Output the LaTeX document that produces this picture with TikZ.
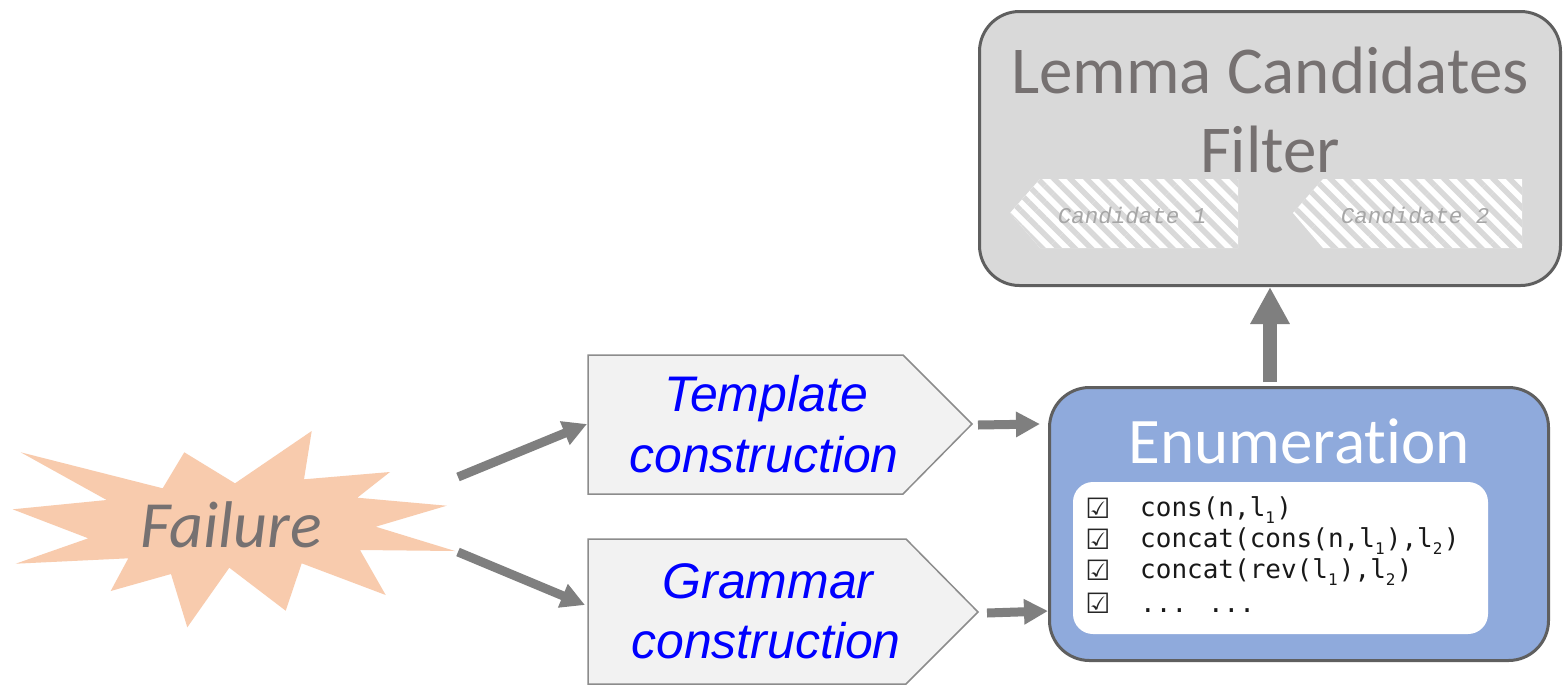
\documentclass[tikz,border=0pt]{standalone}
\usepackage{fontspec}
\setmainfont{Carlito}
\newfontfamily\calibri[RawFeature={-liga;-clig;-calt;-dlig}]{Carlito}
\newfontfamily\arialf{Liberation Sans}
\newfontfamily\monof{DejaVu Sans Mono}
\newfontfamily\monoit{Liberation Mono}
\newfontfamily\symf{DejaVu Sans}
\usetikzlibrary{arrows.meta,patterns.meta}
\definecolor{burst}{HTML}{F8CBAD}
\definecolor{failtxt}{HTML}{767171}
\definecolor{penfill}{HTML}{F2F2F2}
\definecolor{pendraw}{HTML}{8C8C8C}
\definecolor{arrowgray}{HTML}{7F7F7F}
\definecolor{boxgray}{HTML}{D9D9D9}
\definecolor{boxborder}{HTML}{5F5F5F}
\definecolor{enumfill}{HTML}{8FAADC}
\definecolor{candtxt}{HTML}{A6A6A6}
\definecolor{lemmatxt}{HTML}{767171}
\newcommand\sbs[1]{\makebox[0.42em][l]{\raisebox{-0.28em}{\fontsize{16}{16}\selectfont #1}}}
\begin{document}
\begin{tikzpicture}[x=1pt,y=-1pt,
  bigbox/.style={draw=boxborder, line width=3pt, rounded corners=40pt, inner sep=0pt},
  arr/.style={draw=arrowgray, line width=9pt, -{Triangle[length=24pt,width=24pt]}},
  pent/.style={fill=penfill, draw=pendraw, line width=1.5pt},
  bluetxt/.style={text=blue, font=\arialf\itshape\fontsize{50}{60}\selectfont, anchor=base, inner sep=0pt},
  candbase/.style={fill=white},
  stripes/.style={pattern={Lines[angle=-45,distance=11.5pt,line width=5.5pt]}, pattern color=boxgray},
  candtext/.style={text=candtxt, font=\monoit\itshape\fontsize{22.5}{22.5}\selectfont, anchor=base, inner sep=0pt},
  listrow/.style={anchor=base west, inner sep=0pt, text=black!90, font=\monof\fontsize{26}{26}\selectfont},
  chk/.style={anchor=base, inner sep=0pt, text=black!85, font=\symf\bfseries\fontsize{28}{28}\selectfont},
  bigtxt/.style={anchor=base, inner sep=0pt, font=\calibri\fontsize{67}{67}\selectfont}
]
\useasboundingbox (0,0) rectangle (1563,686);
\fill[white] (0,0) rectangle (1563,686);

% Lemma candidates filter box
\node[bigbox, fill=boxgray, minimum width=581pt, minimum height=274pt] (lemma) at (1270,148.5) {};
\node[bigtxt, text=lemmatxt] (lemmaA) at (1270,93) {Lemma Candidates};
\node[bigtxt, text=lemmatxt] (lemmaB) at (1270,172) {Filter};

% candidates
\path[candbase] (1010,213) -- (1040,179) -- (1238,179) -- (1238,248) -- (1040,248) -- cycle;
\path[stripes] (1010,213) -- (1040,179) -- (1238,179) -- (1238,248) -- (1040,248) -- cycle;
\node[candtext] (cand1) at (1132,223) {Candidate 1};
\path[candbase] (1293,213) -- (1323,179) -- (1522,179) -- (1522,248) -- (1323,248) -- cycle;
\path[stripes] (1293,213) -- (1323,179) -- (1522,179) -- (1522,248) -- (1323,248) -- cycle;
\node[candtext] (cand2) at (1415,223) {Candidate 2};

% Enumeration box
\node[bigbox, fill=enumfill, minimum width=499pt, minimum height=273pt] (enum) at (1299,524) {};
\node[bigtxt, text=white, font=\calibri\fontsize{65}{65}\selectfont] (enumt) at (1299,463) {Enumerat\kern0pt ion};
\node[fill=white, rounded corners=20pt, minimum width=415pt, minimum height=152pt, inner sep=0pt] (list) at (1280.5,558) {};
\node[chk] (c1) at (1098,518) {☑};
\node[chk] (c2) at (1098,549) {☑};
\node[chk] (c3) at (1098,580) {☑};
\node[chk] (c4) at (1098,613) {☑};
\node[listrow] (r1) at (1140,516) {cons(n,l\sbs{1})};
\node[listrow] (r2) at (1140,547) {concat(cons(n,l\sbs{1}),l\sbs{2})};
\node[listrow] (r3) at (1140,578) {concat(rev(l\sbs{1}),l\sbs{2})};
\node[listrow] (r4) at (1140,612) {... ...};

% Template / Grammar construction
\path[pent] (588,355) -- (903,355) -- (972,424) -- (903,494) -- (588,494) -- cycle;
\node[bluetxt] (tplA) at (766,411) {Template};
\node[bluetxt] (tplB) at (764,472) {construction};
\path[pent] (588,539) -- (906,539) -- (978,612) -- (906,684) -- (588,684) -- cycle;
\node[bluetxt] (grmA) at (768,598) {Grammar};
\node[bluetxt] (grmB) at (766,658) {construction};

% Failure burst
\fill[burst] (20.7,452.3) -- (162.7,488.3) -- (184.3,452.3) -- (235,483.3) -- (311.7,431) -- (304,479.3) -- (390,472) -- (357.3,497.7) -- (446.7,505.7) -- (375.7,526.7) -- (455,551) -- (360,550) -- (385.7,595) -- (301.7,563.3) -- (285.7,610.7) -- (229.3,567.7) -- (187.3,627.3) -- (171,574) -- (110.7,591) -- (128.3,558.3) -- (15.7,563.7) -- (88.3,538.3) -- (12.7,509.3) -- (106.7,500) -- cycle;
\node[bigtxt, text=failtxt, font=\calibri\itshape\fontsize{66}{66}\selectfont] (fail) at (231,547) {Failure};

% connectors
\coordinate (f1s) at (458,477);
\coordinate (f1e) at (587,424);
\coordinate (f2s) at (458,552);
\coordinate (f2e) at (585,605);
\coordinate (t1s) at (978,425);
\coordinate (t1e) at (1040,424);
\coordinate (g1s) at (987,613);
\coordinate (g1e) at (1048,611);
\draw[arr] (f1s) -- (f1e);
\draw[arr] (f2s) -- (f2e);
\draw[arr] (t1s) -- (t1e);
\draw[arr] (g1s) -- (g1e);
\draw[draw=arrowgray, line width=14pt, -{Triangle[length=37pt,width=37pt]}, shorten <=4pt] (lemma.south |- enum.north) -- (lemma.south);
\end{tikzpicture}
\end{document}
